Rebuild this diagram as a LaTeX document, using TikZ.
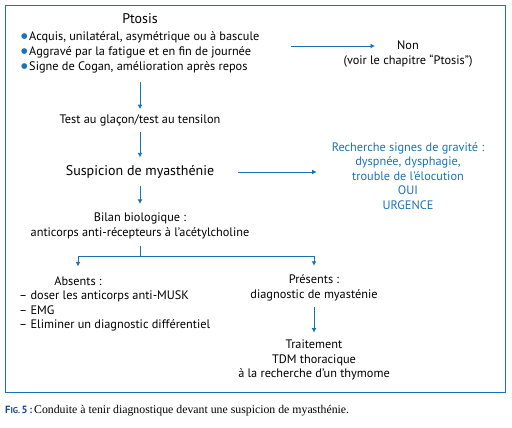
\documentclass[tikz,border=0pt]{standalone}
\usepackage{fontspec}
\setmainfont{PT Sans}
\setsansfont{PT Sans}
\newfontfamily\capfont{Liberation Serif}
\newfontfamily\symfont{DejaVu Sans}
\usetikzlibrary{arrows.meta}
\definecolor{figblue}{RGB}{25,115,185}
\definecolor{capblue}{RGB}{30,75,135}
\newcommand{\bul}{\textcolor{figblue}{\raisebox{0.2ex}{\symfont\fontsize{7.5}{8}\selectfont ●}}\hspace{1.5pt}}

\begin{document}
\begin{tikzpicture}[x=1pt, y=-1pt, font=\fontsize{12.3}{14.6}\selectfont,
		txt_style/.style={inner sep=0pt, align=center},
		list_style/.style={inner sep=0pt, align=left, anchor=west},
		big_style/.style={txt_style, font=\fontsize{14}{16}\selectfont},
		arrow_style/.style={draw=figblue, line width=0.9pt, -{Latex[length=4.5pt,width=5pt]}}]
		
		\useasboundingbox (0,0) rectangle (512,428);
		\draw[figblue, line width=0.9pt] (5,5) rectangle (505,392);
		
		\node[big_style] (ptosis) at (140,19) {Ptosis};
		\node[list_style, font=\fontsize{12.3}{15}\selectfont] (signs) at (21,52) {\bul Acquis, unilatéral, asymétrique ou à bascule\\
			\bul Aggravé par la fatigue et en fin de journée\\
			\bul Signe de Cogan, amélioration après repos};
		\node[txt_style] (non) at (408,54) {Non\\(voir le chapitre “Ptosis”)};
		\node[txt_style] (test) at (140,120) {Test au glaçon/test au tensilon};
		\node[big_style] (susp) at (140,172) {Suspicion de myasthénie};
		\node[txt_style, text=figblue] (grav) at (408,176) {Recherche signes de gravité :\\
			dyspnée, dysphagie,\\trouble de l’élocution\\OUI\\URGENCE};
		\node[txt_style] (bilan) at (140,226) {Bilan biologique :\\anticorps anti-récepteurs à l’acétylcholine};
		\node[txt_style] (abs) at (78,281) {Absents :};
		\node[list_style] (abslist) at (19,311) {– doser les anticorps anti-MUSK\\– EMG\\– Eliminer un diagnostic différentiel};
		\node[txt_style] (pres) at (314,288) {Présents :\\diagnostic de myasténie};
		\node[txt_style] (trt) at (314,360) {Traitement\\TDM thoracique\\à la recherche d’un thymome};
		\coordinate (split) at (140,256);
		
		\draw[arrow_style, shorten <=31pt, shorten >=33pt] ([yshift=6pt]signs.east) -- ([yshift=6pt]signs.east -| non.center);
		\draw[arrow_style, shorten <=9pt, shorten >=5pt] (signs.south -| ptosis) -- (test.north);
		\draw[arrow_style, shorten <=6pt, shorten >=8pt] (test.south) -- (susp.north);
		\draw[arrow_style, shorten <=24pt, shorten >=15pt] (susp.east) -- (grav.west |- susp);
		\draw[arrow_style, shorten <=7pt, shorten >=9pt] (susp.south) -- (bilan.north);
		\draw[figblue, line width=0.9pt, shorten <=7pt] (bilan.south) -- (split);
		\draw[arrow_style, shorten >=10pt] (split) -| (abs.north);
		\draw[arrow_style, shorten >=9pt] (split) -| (pres.north);
		\draw[arrow_style, shorten <=6pt, shorten >=7pt] (pres.south) -- (trt.north);
		
		\node[anchor=west, inner sep=0pt, font=\capfont\fontsize{11.8}{13}\selectfont] (cap) at (5,411)
			{\textcolor{capblue}{\sffamily\bfseries\fontsize{10.5}{12}\selectfont F\fontsize{8.5}{12}\selectfont IG.\,\fontsize{10.5}{12}\selectfont 5\,:}\hspace{2pt}Conduite à tenir diagnostique devant une suspicion de myasthénie.};
		
\end{tikzpicture}
\end{document}
